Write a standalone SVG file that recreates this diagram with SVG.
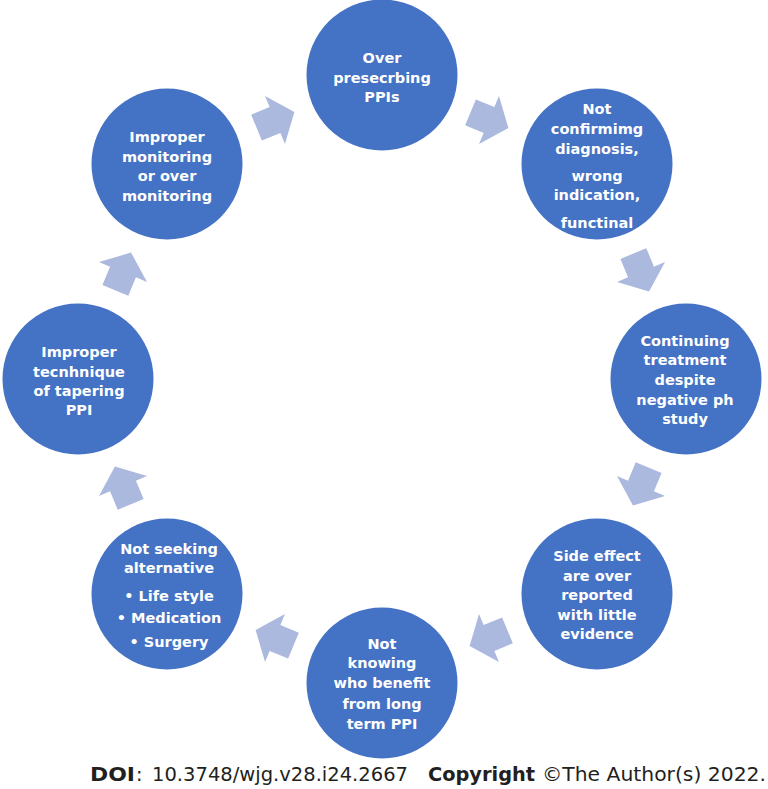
<svg xmlns="http://www.w3.org/2000/svg" width="768" height="789" viewBox="0 0 768 789">
<defs>
<style>
.node circle{fill:#4472C4;}
.node text{fill:#FFFFFF;font-family:"DejaVu Sans","Verdana",sans-serif;font-weight:bold;font-size:14.5px;text-anchor:middle;}
.arrow{fill:#ABB9DE;}
.foot{font-family:"DejaVu Sans",sans-serif;font-size:19px;fill:#231F20;}
.b{font-weight:bold;}
</style>
<path id="arr" d="M-20,-14 L0,-14 L0,-26 L21,0 L0,26 L0,14 L-20,14 Z"/>
</defs>
<rect width="768" height="789" fill="#FFFFFF"/>
<g id="connectors">
<use href="#arr" class="arrow" transform="translate(489,120) rotate(22.5)"/>
<use href="#arr" class="arrow" transform="translate(641,272) rotate(67.5)"/>
<use href="#arr" class="arrow" transform="translate(641,486) rotate(112.5)"/>
<use href="#arr" class="arrow" transform="translate(489,638) rotate(157.5)"/>
<use href="#arr" class="arrow" transform="translate(275,638) rotate(202.5)"/>
<use href="#arr" class="arrow" transform="translate(123,486) rotate(247.5)"/>
<use href="#arr" class="arrow" transform="translate(123,272) rotate(292.5)"/>
<use href="#arr" class="arrow" transform="translate(275,120) rotate(337.5)"/>
</g>
<g id="n1" class="node"><circle cx="382" cy="75" r="75.5"/>
<text><tspan x="382" y="63">Over</tspan><tspan x="382" y="83">presecrbing</tspan><tspan x="382" y="102">PPIs</tspan></text></g>
<g id="n2" class="node"><circle cx="597" cy="164" r="75.5"/>
<text><tspan x="597" y="114">Not</tspan><tspan x="597" y="134">confirmimg</tspan><tspan x="597" y="154">diagnosis,</tspan><tspan x="597" y="181">wrong</tspan><tspan x="597" y="200">indication,</tspan><tspan x="597" y="228">functinal</tspan></text></g>
<g id="n3" class="node"><circle cx="686" cy="379" r="75.5"/>
<text><tspan x="685" y="346">Continuing</tspan><tspan x="685" y="365">treatment</tspan><tspan x="685" y="385">despite</tspan><tspan x="685" y="405">negative ph</tspan><tspan x="685" y="424">study</tspan></text></g>
<g id="n4" class="node"><circle cx="597" cy="594" r="75.5"/>
<text><tspan x="597" y="561">Side effect</tspan><tspan x="597" y="581">are over</tspan><tspan x="597" y="600">reported</tspan><tspan x="597" y="620">with little</tspan><tspan x="597" y="639">evidence</tspan></text></g>
<g id="n5" class="node"><circle cx="382" cy="683" r="75.5"/>
<text><tspan x="382" y="649">Not</tspan><tspan x="382" y="668">knowing</tspan><tspan x="382" y="688">who benefit</tspan><tspan x="382" y="709">from long</tspan><tspan x="382" y="729">term PPI</tspan></text></g>
<g id="n6" class="node"><circle cx="167" cy="594" r="75.5"/>
<text><tspan x="169" y="554">Not seeking</tspan><tspan x="169" y="573">alternative</tspan><tspan x="169" y="601">• Life style</tspan><tspan x="169" y="623">• Medication</tspan><tspan x="169" y="647">• Surgery</tspan></text></g>
<g id="n7" class="node"><circle cx="78" cy="379" r="75.5"/>
<text><tspan x="79" y="357">Improper</tspan><tspan x="79" y="377">tecnhnique</tspan><tspan x="79" y="396">of tapering</tspan><tspan x="79" y="415">PPI</tspan></text></g>
<g id="n8" class="node"><circle cx="167" cy="164" r="75.5"/>
<text><tspan x="167" y="142">Improper</tspan><tspan x="167" y="162">monitoring</tspan><tspan x="167" y="181">or over</tspan><tspan x="167" y="201">monitoring</tspan></text></g>
<g id="footer">
<text class="foot b" x="90" y="781" textLength="45" lengthAdjust="spacingAndGlyphs">DOI</text>
<text class="foot" x="136" y="781">:</text>
<text class="foot" x="152" y="781" textLength="256" lengthAdjust="spacingAndGlyphs">10.3748/wjg.v28.i24.2667</text>
<text class="foot b" x="428" y="781" textLength="107" lengthAdjust="spacingAndGlyphs">Copyright</text>
<text class="foot" x="542" y="781" textLength="224" lengthAdjust="spacingAndGlyphs">©The Author(s) 2022.</text>
</g>
</svg>
